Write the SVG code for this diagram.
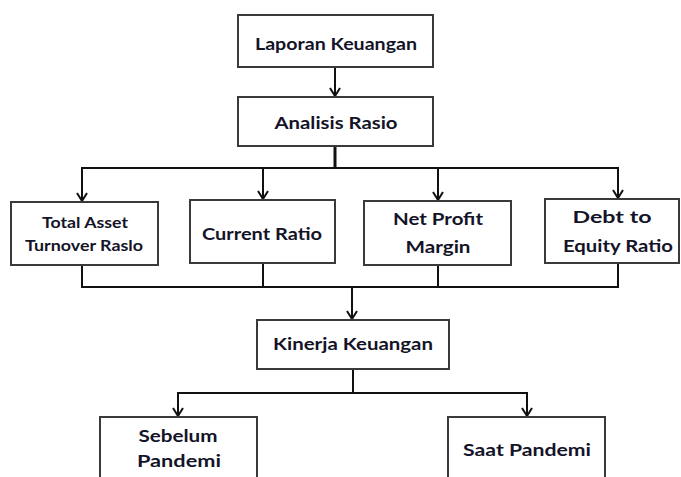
<svg xmlns="http://www.w3.org/2000/svg" width="681" height="477" viewBox="0 0 681 477">
<style>
.box{fill:#fff;stroke:#3a3a3a;stroke-width:2}
.t{font-family:Lato,"Liberation Sans",sans-serif;font-weight:bold;fill:#141428;text-anchor:middle}
.l{font-size:17px}
.s{font-size:15px}
.c{fill:none;stroke:#111;stroke-width:2}
</style>
<defs>
<marker id="ah" viewBox="0 0 12 12" refX="11" refY="6" markerWidth="12" markerHeight="12" markerUnits="userSpaceOnUse" orient="auto">
<path d="M3,1 L11,6 L3,11" fill="none" stroke="#111" stroke-width="2"/>
</marker>
</defs>
<g id="connectors">
<line class="c" x1="335" y1="67" x2="335" y2="96" marker-end="url(#ah)"/>
<line class="c" x1="335" y1="146" x2="335" y2="168" style="stroke-width:3"/>
<polyline class="c" points="82,200 82,168 618,168 618,198"/>
<line class="c" x1="82" y1="168" x2="82" y2="201" marker-end="url(#ah)"/>
<line class="c" x1="263" y1="168" x2="263" y2="199" marker-end="url(#ah)"/>
<line class="c" x1="438" y1="168" x2="438" y2="200" marker-end="url(#ah)"/>
<line class="c" x1="618" y1="168" x2="618" y2="198" marker-end="url(#ah)"/>
<polyline class="c" points="82,265 82,287 618,287 618,263"/>
<line class="c" x1="263" y1="263" x2="263" y2="287"/>
<line class="c" x1="438" y1="265" x2="438" y2="287"/>
<line class="c" x1="352" y1="287" x2="352" y2="319" marker-end="url(#ah)"/>
<line class="c" x1="353" y1="369" x2="353" y2="393"/>
<polyline class="c" points="178,416 178,393 527,393 527,416"/>
<line class="c" x1="178" y1="393" x2="178" y2="416" marker-end="url(#ah)"/>
<line class="c" x1="527" y1="393" x2="527" y2="416" marker-end="url(#ah)"/>
</g>
<g id="laporan-keuangan"><rect class="box" x="238" y="15" width="195" height="52"/><text class="t l" x="336" y="50" textLength="162" lengthAdjust="spacingAndGlyphs">Laporan Keuangan</text></g>
<g id="analisis-rasio"><rect class="box" x="238" y="97" width="195" height="49"/><text class="t l" x="336" y="129" textLength="123" lengthAdjust="spacingAndGlyphs">Analisis Rasio</text></g>
<g id="total-asset"><rect class="box" x="11" y="202" width="147" height="63"/><text class="t s" x="85" y="228" textLength="86" lengthAdjust="spacingAndGlyphs">Total Asset</text><text class="t s" x="84" y="251" textLength="118" lengthAdjust="spacingAndGlyphs">Turnover Raslo</text></g>
<g id="current-ratio"><rect class="box" x="190" y="200" width="145" height="63"/><text class="t l" x="262" y="240" textLength="120" lengthAdjust="spacingAndGlyphs">Current Ratio</text></g>
<g id="net-profit-margin"><rect class="box" x="364" y="201" width="147" height="64"/><text class="t l" x="438" y="225" textLength="90" lengthAdjust="spacingAndGlyphs">Net Profit</text><text class="t l" x="438" y="253" textLength="65" lengthAdjust="spacingAndGlyphs">Margin</text></g>
<g id="debt-to-equity"><rect class="box" x="545" y="199" width="134" height="64"/><text class="t l" x="612" y="223" textLength="79" lengthAdjust="spacingAndGlyphs">Debt to</text><text class="t l" x="618" y="252" textLength="110" lengthAdjust="spacingAndGlyphs">Equity Ratio</text></g>
<g id="kinerja-keuangan"><rect class="box" x="257" y="320" width="192" height="49"/><text class="t l" x="353" y="350" textLength="160" lengthAdjust="spacingAndGlyphs">Kinerja Keuangan</text></g>
<g id="sebelum-pandemi"><rect class="box" x="100" y="417" width="157" height="70"/><text class="t l" x="178" y="442" textLength="79" lengthAdjust="spacingAndGlyphs">Sebelum</text><text class="t l" x="179" y="467" textLength="84" lengthAdjust="spacingAndGlyphs">Pandemi</text></g>
<g id="saat-pandemi"><rect class="box" x="448" y="417" width="157" height="70"/><text class="t l" x="527" y="456" textLength="128" lengthAdjust="spacingAndGlyphs">Saat Pandemi</text></g>
</svg>
